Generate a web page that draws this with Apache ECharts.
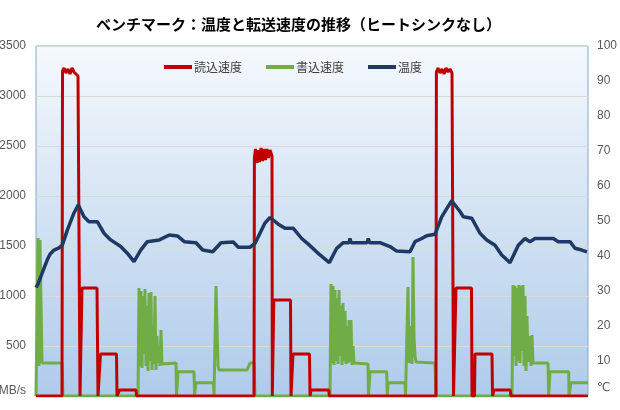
<!DOCTYPE html>
<html>
<head>
<meta charset="utf-8">
<script src="https://cdn.jsdelivr.net/npm/echarts@6/dist/echarts.min.js"></script>
<style>
  html, body { margin: 0; padding: 0; background: #fff; }
  #chart { width: 620px; height: 410px; }
</style>
</head>
<body>
<div id="chart"></div>
<script>
// 時間軸は経過サンプル数 (0〜552)
const seriesNames = ['読込速度', '書込速度', '温度'];
const leftTicks = [0, 500, 1000, 1500, 2000, 2500, 3000, 3500];

// 読込速度 MB/s
const readSpeed = [
  [0, 0], [26, 0], [26.5, 3250], [28, 3280], [30, 3230], [32, 3270], [34, 3220], [36, 3280],
  [38, 3240], [40, 3260], [42, 3200], [43.5, 3210], [44, 0], [45.5, 0], [46, 1080], [61, 1080],
  [62, 0], [64, 0], [64.5, 420], [80.5, 420], [81, 0], [83, 0], [83.5, 60], [100, 60], [100.5, 0],
  [218, 0], [218.4, 2380], [219.5, 2470], [221, 2330], [222, 2460], [223.5, 2340], [225, 2480],
  [226.5, 2350], [228, 2470], [229.5, 2360], [231, 2470], [232.5, 2380], [234, 2460], [236, 2400],
  [236.3, 0], [237.5, 0], [237.8, 960], [254.5, 960], [255, 0], [256.5, 0], [257, 420],
  [273.5, 420], [274, 0], [274.7, 0], [275, 60], [292.8, 60], [293.2, 0],
  [400, 0], [400.4, 3240], [402, 3280], [404, 3230], [406, 3270], [408, 3220], [410, 3280],
  [412, 3240], [414, 3270], [416, 3230], [417.2, 3250], [417.5, 0], [419.5, 0], [420, 1080],
  [435.5, 1080], [436, 0], [438.5, 0], [439, 420], [456, 420], [456.5, 0], [457.5, 0],
  [458, 60], [474.3, 60], [474.8, 0], [552, 0]
];

// 書込速度 MB/s
const writeSpeed = [
  [0, 0], [2, 1580], [3, 300], [4, 1560], [6, 330], [26, 330], [27, 0], [102, 0],
  [103, 1080], [104, 300], [105, 1050], [106, 280], [107, 1000], [108, 420], [109, 1070],
  [110, 300], [111, 900], [112, 250], [113, 1030], [114, 350], [115, 1040], [116, 260],
  [117, 700], [118, 320], [119, 1000], [120, 260], [121, 600], [122, 330], [123, 500],
  [124, 300], [125, 660], [126, 320], [127, 330], [140, 330], [140.5, 0], [141.5, 0],
  [142, 243], [158, 243], [158.5, 0], [159.5, 0], [160, 133], [177.5, 133], [178, 0],
  [179, 0], [180, 1100], [182, 300], [183, 260], [211, 260], [214, 330], [218, 330], [219, 0],
  [294, 0], [295, 1120], [296, 330], [297, 1100], [298, 310], [299, 1060], [300, 350],
  [301, 980], [302, 320], [303, 1060], [304, 400], [305, 900], [306, 310], [307, 930],
  [308, 350], [309, 850], [310, 320], [311, 700], [312, 330], [313, 760], [314, 340],
  [315, 760], [316, 310], [317, 500], [318, 330], [332, 320], [332.5, 0], [333.5, 0],
  [334, 243], [350.7, 243], [351.2, 0], [351.8, 0], [352.2, 133], [369, 133], [369.5, 0],
  [371, 0], [372, 1090], [373, 330], [374, 700], [376, 320], [377, 1390], [378, 600],
  [379, 400], [380, 340], [381, 330], [399, 330], [400, 0],
  [476, 0], [477, 1110], [478, 400], [479, 1100], [480, 300], [481, 1080], [482, 350],
  [483, 1110], [484, 330], [485, 1100], [486, 450], [487, 1110], [488, 300], [489, 1000],
  [490, 250], [491, 800], [492, 340], [494, 600], [495, 300], [496, 610], [497, 330],
  [512, 330], [512.7, 0], [513.5, 0], [514, 243], [532.7, 243], [533, 0], [534.5, 0],
  [535, 133], [552, 133]
];

// 温度 ℃
const temperature = [
  [0, 31], [2, 32], [4.7, 34], [8, 36.5], [11.3, 38.9], [14, 40.5], [18, 41.7], [23, 42.3],
  [26.3, 43.1], [31.3, 47.4], [38, 52.3], [42.3, 54.6], [48, 51.2], [53, 49.8], [61.3, 49.8],
  [68, 46.5], [74.7, 44.6], [84.7, 42.7], [91.3, 40.8], [98, 38.4], [104.7, 41.7], [111.3, 44.1],
  [123.3, 44.6], [133.3, 46], [141.7, 45.7], [148.3, 44.1], [160, 43.8], [166.7, 41.7],
  [176.7, 41.2], [185, 43.8], [197.3, 44], [202.3, 42.5], [214, 42.5], [219, 43.6],
  [228.7, 49.3], [234, 51], [242.3, 49.1], [249, 47.9], [257.3, 47.9], [265.7, 45],
  [272.3, 43.4], [284, 40.3], [293.3, 38.1], [300.7, 42.2], [307.3, 43.8], [313, 43.8],
  [314, 45], [315, 43.8], [331, 43.8], [332.3, 45], [333.5, 43.8], [344, 43.8], [354, 42.7],
  [360.7, 41.4], [374, 41.2], [379, 44.1], [385.7, 45], [390.7, 45.8], [399, 46.2],
  [405.7, 51.2], [415.7, 55.8], [424, 52.7], [427.3, 51.2], [435.7, 50.8], [444, 46.5],
  [450.7, 44.6], [459, 43.1], [465.7, 40.3], [474, 38.1], [482.3, 43.1], [489, 45],
  [494, 44.1], [499, 45], [517.3, 45], [522.3, 44.1], [534, 44.1], [539, 42.2],
  [545.7, 41.7], [551, 41.2]
];

const chart = echarts.init(document.getElementById('chart'));
chart.setOption({
  animation: false,
  backgroundColor: '#fff',
  title: {
    text: 'ベンチマーク：温度と転送速度の推移（ヒートシンクなし）',
    left: 91,
    top: 12,
    textStyle: {
      fontFamily: 'Noto Sans CJK JP',
      fontSize: 15,
      fontWeight: 'bold',
      color: '#000'
    }
  },
  legend: {
    data: seriesNames,
    left: 164,
    top: 61,
    padding: 0,
    icon: 'rect',
    itemWidth: 28,
    itemHeight: 4,
    itemGap: 24,
    textStyle: {
      fontFamily: 'Noto Sans CJK JP',
      fontSize: 12,
      color: '#404040',
      padding: [0, 0, 0, -3]
    }
  },
  grid: {
    left: 36,
    right: 32,
    top: 46,
    bottom: 14,
    containLabel: false,
    outerBoundsMode: 'none',
    show: true,
    borderColor: '#86A8CA',
    borderWidth: 1,
    backgroundColor: {
      type: 'linear', x: 0, y: 0, x2: 0, y2: 1,
      colorStops: [
        { offset: 0, color: '#F5F9FD' },
        { offset: 1, color: '#AFCBEA' }
      ]
    }
  },
  xAxis: {
    type: 'value',
    min: 0,
    max: 552,
    show: false
  },
  yAxis: [
    {
      type: 'value',
      min: 0,
      max: 3500,
      interval: 500,
      axisLine: { show: false },
      axisTick: { show: false },
      splitLine: { lineStyle: { color: '#D9D9D9' } },
      axisLabel: {
        margin: 10,
        fontFamily: 'Liberation Sans',
        fontSize: 12,
        color: '#595959',
        formatter: v => v === 0 ? '{u|MB/s}' : String(v),
        rich: { u: { fontFamily: 'Liberation Sans', fontSize: 12, color: '#595959', padding: [0, 0, 10, 0] } }
      }
    },
    {
      type: 'value',
      min: 0,
      max: 100,
      interval: 10,
      axisLine: { show: false },
      axisTick: { show: false },
      splitLine: { show: false },
      axisLabel: {
        margin: 9,
        fontFamily: 'Liberation Sans',
        fontSize: 12,
        color: '#595959',
        formatter: v => v === 0 ? '{u|℃}' : String(v),
        rich: { u: { fontFamily: 'DejaVu Sans', fontSize: 12, color: '#595959', padding: [0, 0, 16, 0] } }
      }
    }
  ],
  series: [
    {
      name: seriesNames[0],
      type: 'line',
      yAxisIndex: 0,
      data: readSpeed,
      symbol: 'none',
      z: 3,
      itemStyle: { color: '#C00000' },
      lineStyle: { color: '#C00000', width: 3 }
    },
    {
      name: seriesNames[1],
      type: 'line',
      yAxisIndex: 0,
      data: writeSpeed,
      symbol: 'none',
      z: 2,
      itemStyle: { color: '#70AD47' },
      lineStyle: { color: '#70AD47', width: 3 }
    },
    {
      name: seriesNames[2],
      type: 'line',
      yAxisIndex: 1,
      data: temperature,
      symbol: 'none',
      z: 4,
      itemStyle: { color: '#1F3864' },
      lineStyle: { color: '#1F3864', width: 3.5 }
    }
  ]
});
</script>
</body>
</html>
